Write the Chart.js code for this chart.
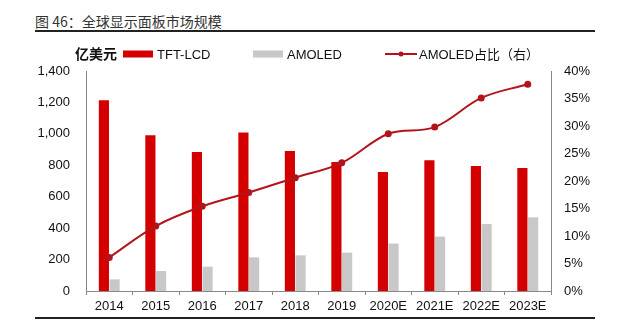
<!DOCTYPE html>
<html>
<head>
<meta charset="utf-8">
<script src="https://cdn.jsdelivr.net/npm/chart.js@4/dist/chart.umd.min.js"></script>
<style>
  body { margin: 0; background: #fff; width: 640px; height: 322px; position: relative; overflow: hidden; }
  #title { position: absolute; left: 35px; top: 12px; width: 560px; height: 18px; border-bottom: 2px solid #222;
           font: 14px "Noto Sans CJK SC", "Liberation Sans", sans-serif; color: #333; line-height: 18px; }
  #box { position: absolute; left: 0; top: 36px; width: 640px; height: 280px; }
  #bottomLine { position: absolute; left: 35px; top: 317px; width: 560px; height: 2px; background: #222; }
</style>
</head>
<body>
<div id="title">图 46：全球显示面板市场规模</div>
<div id="box"><canvas id="chart"></canvas></div>
<div id="bottomLine"></div>
<script>
// Categories and series
const years = ['2014', '2015', '2016', '2017', '2018', '2019', '2020E', '2021E', '2022E', '2023E'];
const tftLcd = [1214, 991, 885, 1008, 891, 821, 757, 832, 796, 783];
const amoled = [74, 127, 155, 214, 227, 244, 302, 346, 426, 469];
const amoledShare = [6.1, 11.8, 15.4, 17.9, 20.6, 23.3, 28.6, 29.8, 35.1, 37.6];

const FONT = '"Liberation Sans", "Noto Sans CJK SC", sans-serif';

// legend + unit drawn on the canvas
const legendPlugin = {
    id: 'customLegend',
    afterDraw(chart) {
        const ctx = chart.ctx;
        const y = 18;
        ctx.save();
        ctx.fillStyle = '#111';
        ctx.font = 'bold 14px "Noto Sans CJK SC", sans-serif';
        ctx.textBaseline = 'middle';
        ctx.fillText('亿美元', 75, y);

        const spots = [
            { x: 123, tx: 157 },
            { x: 253, tx: 287 },
            { x: 385, tx: 419 }
        ];
        ctx.font = '13px ' + FONT;
        chart.data.datasets.forEach((ds, i) => {
            const s = spots[i];
            if (ds.type === 'line') {
                ctx.strokeStyle = ds.borderColor;
                ctx.lineWidth = 2;
                ctx.beginPath();
                ctx.moveTo(s.x, y);
                ctx.lineTo(s.x + 32, y);
                ctx.stroke();
                ctx.fillStyle = ds.borderColor;
                ctx.beginPath();
                ctx.arc(s.x + 16, y, 2.5, 0, Math.PI * 2);
                ctx.fill();
            } else {
                ctx.fillStyle = ds.backgroundColor;
                ctx.fillRect(s.x, y - 3.5, 30, 7);
            }
            ctx.fillStyle = '#111';
            ctx.fillText(ds.label, s.tx, y + 1);
        });
        ctx.restore();
    }
};

const config = {
    data: {
        labels: years,
        datasets: [
            {
                type: 'bar',
                label: 'TFT-LCD',
                data: tftLcd,
                backgroundColor: '#d40000',
                yAxisID: 'y',
                barPercentage: 0.95,
                categoryPercentage: 0.46,
                order: 2
            },
            {
                type: 'bar',
                label: 'AMOLED',
                data: amoled,
                backgroundColor: '#c8c8c8',
                yAxisID: 'y',
                barPercentage: 0.95,
                categoryPercentage: 0.46,
                order: 2
            },
            {
                type: 'line',
                label: 'AMOLED占比（右）',
                data: amoledShare,
                borderColor: '#b3141c',
                backgroundColor: '#b3141c',
                borderWidth: 2,
                pointRadius: 2.5,
                pointBackgroundColor: '#b3141c',
                tension: 0.35,
                yAxisID: 'y1',
                order: 1
            }
        ]
    },
    options: {
        responsive: true,
        maintainAspectRatio: false,
        animation: false,
        layout: { padding: { top: 35, left: 0, right: 0, bottom: 0 } },
        plugins: {
            legend: { display: false },
            tooltip: { enabled: false }
        },
        scales: {
            x: {
                grid: { display: true, drawOnChartArea: false, offset: true, tickLength: 4, color: '#888' },
                border: { color: '#888' },
                ticks: { color: '#111', font: { family: FONT, size: 13 }, padding: 4, maxRotation: 0 },
                afterFit(s) { s.height = 25; }
            },
            y: {
                position: 'left',
                min: 0,
                max: 1400,
                grid: { display: false, drawTicks: false },
                border: { display: true, color: '#888' },
                ticks: {
                    stepSize: 200,
                    padding: 16,
                    color: '#111',
                    font: { family: FONT, size: 13 },
                    callback: v => v.toLocaleString('en-US')
                },
                afterFit(s) { s.width = 86; }
            },
            y1: {
                position: 'right',
                min: 0,
                max: 40,
                grid: { display: false, drawTicks: false },
                border: { display: true, color: '#888' },
                ticks: {
                    stepSize: 5,
                    padding: 13,
                    color: '#111',
                    font: { family: FONT, size: 13 },
                    callback: v => v + '%'
                },
                afterFit(s) { s.width = 89; }
            }
        }
    },
    plugins: [legendPlugin]
};

document.addEventListener('DOMContentLoaded', function () {
    new Chart(document.getElementById('chart'), config);
});
</script>
</body>
</html>
